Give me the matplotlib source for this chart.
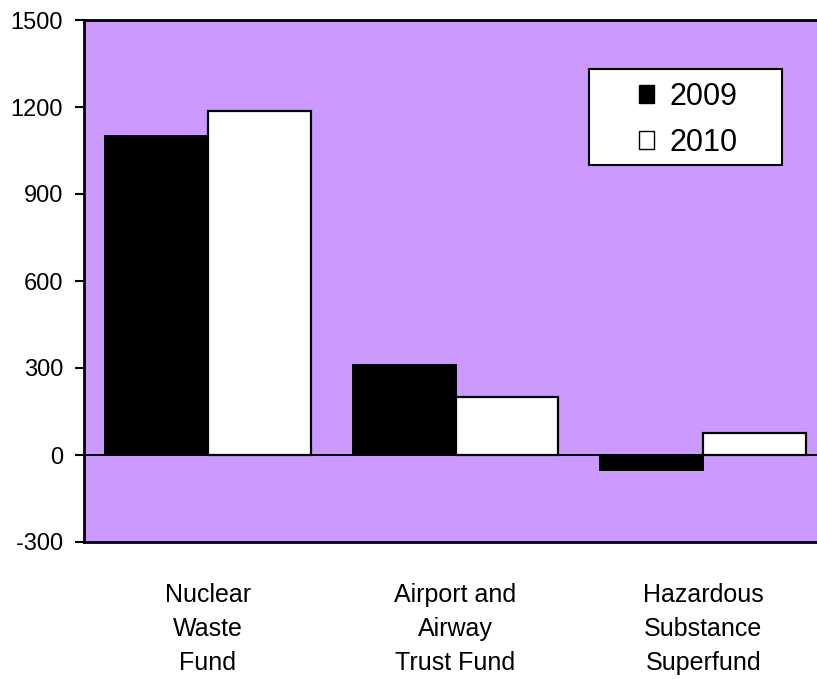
import matplotlib
matplotlib.use("Agg")
import matplotlib.pyplot as plt
from matplotlib.patches import Patch, Rectangle
import numpy as np

categories = ["Nuclear\nWaste\nFund", "Airport and\nAirway\nTrust Fund", "Hazardous\nSubstance\nSuperfund"]
series_names = ["2009", "2010"]
values_2009 = [1100, 312, -50]
values_2010 = [1185, 200, 76]
yticks = [-300, 0, 300, 600, 900, 1200, 1500]

plt.rcParams["font.family"] = ["Liberation Sans", "DejaVu Sans"]

W, H = 817, 679
fig = plt.figure(figsize=(W / 100, H / 100), dpi=100)
left, right, top, bottom = 84, 827, 20, 542
ax = fig.add_axes([left / W, 1 - bottom / H, (right - left) / W, (bottom - top) / H])
ax.set_facecolor("#CC99FF")

x = np.arange(len(categories))
bw = 0.415
ax.bar(x - bw / 2, values_2009, bw, color="black", edgecolor="black", linewidth=1.4, zorder=3)
ax.bar(x + bw / 2, values_2010, bw, color="white", edgecolor="black", linewidth=1.6, zorder=3)
ax.axhline(0, color="black", linewidth=1.4, zorder=2)

ax.set_xlim(-0.5, 2.5)
ax.set_ylim(-300, 1500)
ax.set_yticks(yticks)
ax.set_yticklabels([str(v) for v in yticks], fontsize=17)
ax.tick_params(axis="y", length=6.5, width=1.5, direction="out", pad=8.6)
ax.set_xticks([])
for s in ["left", "top", "bottom"]:
    ax.spines[s].set_linewidth(2)
ax.spines["right"].set_visible(False)

# category labels below the plot area
for xi, lab in zip(x, categories):
    ax.text(xi, 1 - (583 - top) / (bottom - top), lab, ha="center", va="top", fontsize=18,
            linespacing=1.53, transform=ax.get_xaxis_transform(), clip_on=False)

# legend box
ax.add_patch(Rectangle((589 / W, 1 - 165 / H), (782 - 589) / W, (165 - 69) / H,
                       transform=fig.transFigure, facecolor="white", edgecolor="black",
                       linewidth=1.5, zorder=4, clip_on=False))
handles = [Patch(facecolor="black", edgecolor="black", label=series_names[0]),
           Patch(facecolor="white", edgecolor="black", label=series_names[1])]
leg = ax.legend(handles=handles, loc="center", bbox_to_anchor=(688 / W, 1 - 120 / H),
                bbox_transform=fig.transFigure, fontsize=22, frameon=False,
                handlelength=0.5, handleheight=0.5, handletextpad=0.5,
                labelspacing=0.52, borderpad=0, borderaxespad=0)
leg.set_zorder(5)

fig.savefig("out.png", dpi=100)
